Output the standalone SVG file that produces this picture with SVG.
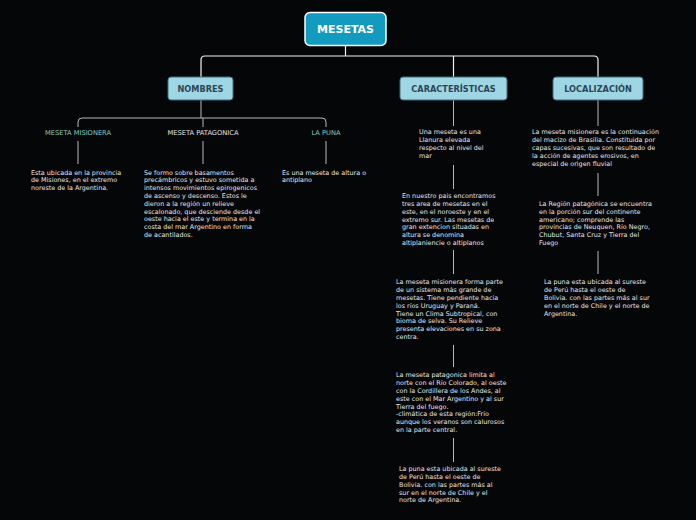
<svg xmlns="http://www.w3.org/2000/svg" width="696" height="520" viewBox="0 0 696 520">
<style>
.t{font-family:"DejaVu Sans",Verdana,sans-serif;font-size:6.4px;fill:#e6e6e6}
.lbl{font-family:"DejaVu Sans",Verdana,sans-serif;font-size:6.7px;text-anchor:middle}
.br rect{fill:#9fd6e4;stroke:#3f6d7c;stroke-width:1}
.br text{font-family:"DejaVu Sans",Verdana,sans-serif;font-size:8.2px;font-weight:bold;fill:#2b4656;text-anchor:middle}
.c{fill:none;stroke:#f2f2f2;stroke-width:1.2}
.s{fill:none;stroke:#b8b8b8;stroke-width:1}
</style>
<rect width="696" height="520" fill="#050608"/>
<g id="connectors">
<path class="c" d="M345.5,46 V56 M201,77 V60 Q201,56 205,56 H594 Q598,56 598,60 V77 M453.5,56 V77"/>
<path class="s" d="M201,100 V118 M78,127 V122 Q78,118 82,118 H322 Q326,118 326,122 V127 M203,118 V127"/>
<path class="s" d="M78,141 V164 M203,141 V164 M326,141 V164"/>
<path class="s" d="M453.5,100 V126 M453.5,165 V189 M453.5,250 V274 M453.5,345 V367 M453.5,438 V462"/>
<path class="s" d="M598,100 V126 M598,173 V196 M598,251 V274"/>
</g>
<g id="root">
<rect x="305" y="12.5" width="81" height="33" rx="5" fill="#129bbf" stroke="#ffffff" stroke-width="1.5"/>
<text x="345.5" y="33" font-family="DejaVu Sans,Verdana,sans-serif" font-size="11" font-weight="bold" fill="#ffffff" text-anchor="middle">MESETAS</text>
</g>
<g id="nombres" class="br"><rect x="168" y="77" width="65" height="23" rx="3"/><text x="200.5" y="91.6">NOMBRES</text></g>
<g id="caracteristicas" class="br"><rect x="400" y="77" width="107" height="23" rx="3"/><text x="453.5" y="91.6">CARACTERÍSTICAS</text></g>
<g id="localizacion" class="br"><rect x="553" y="77" width="90" height="23" rx="3"/><text x="598" y="91.6">LOCALIZACIÓN</text></g>
<g id="meseta-misionera"><text class="lbl" x="78" y="134.5" fill="#86d3c2">MESETA MISIONERA</text></g>
<g id="meseta-patagonica"><text class="lbl" x="203" y="134.5" fill="#e6e6e6">MESETA PATAGONICA</text></g>
<g id="la-puna"><text class="lbl" x="326" y="134.5" fill="#86d3c2">LA PUNA</text></g>
<g id="misionera-desc"><text class="t" x="31" y="174.5"><tspan x="31">Esta ubicada en la provincia</tspan><tspan x="31" dy="7.8">de Misiones, en el extremo</tspan><tspan x="31" dy="7.8">noreste de la Argentina.</tspan></text></g>
<g id="patagonica-desc"><text class="t" x="144" y="174.5"><tspan x="144">Se formo sobre basamentos</tspan><tspan x="144" dy="7.8">precámbricos y estuvo sometida a</tspan><tspan x="144" dy="7.8">intensos movimientos epirogenicos</tspan><tspan x="144" dy="7.8">de ascenso y descenso. Estos le</tspan><tspan x="144" dy="7.8">dieron a la región un relieve</tspan><tspan x="144" dy="7.8">escalonado, que desciende desde el</tspan><tspan x="144" dy="7.8">oeste hacia el este y termina en la</tspan><tspan x="144" dy="7.8">costa del mar Argentino en forma</tspan><tspan x="144" dy="7.8">de acantilados.</tspan></text></g>
<g id="puna-desc"><text class="t" x="282" y="174.5"><tspan x="282">Es una meseta de altura o</tspan><tspan x="282" dy="7.8">antiplano</tspan></text></g>
<g id="car-1"><text class="t" x="419" y="134.4"><tspan x="419">Una meseta es una</tspan><tspan x="419" dy="7.8">Llanura elevada</tspan><tspan x="419" dy="7.8">respecto al nivel del</tspan><tspan x="419" dy="7.8">mar</tspan></text></g>
<g id="car-2"><text class="t" x="402" y="198.2"><tspan x="402">En nuestro pais encontramos</tspan><tspan x="402" dy="7.8">tres area de mesetas en el</tspan><tspan x="402" dy="7.8">este, en el noroeste y en el</tspan><tspan x="402" dy="7.8">extremo sur. Las mesetas de</tspan><tspan x="402" dy="7.8">gran extencion situadas en</tspan><tspan x="402" dy="7.8">altura se denomina</tspan><tspan x="402" dy="7.8">altiplaniencie o altiplanos</tspan></text></g>
<g id="car-3"><text class="t" x="396" y="284.3"><tspan x="396">La meseta misionera forma parte</tspan><tspan x="396" dy="7.8">de un sistema más grande de</tspan><tspan x="396" dy="7.8">mesetas. Tiene pendiente hacia</tspan><tspan x="396" dy="7.8">los ríos Uruguay y Paraná.</tspan><tspan x="396" dy="7.8">Tiene un Clima Subtropical, con</tspan><tspan x="396" dy="7.8">bioma de selva. Su Relieve</tspan><tspan x="396" dy="7.8">presenta elevaciones en su zona</tspan><tspan x="396" dy="7.8">centra.</tspan></text></g>
<g id="car-4"><text class="t" x="396" y="377.3"><tspan x="396">La meseta patagonica limita al</tspan><tspan x="396" dy="7.8">norte con el Río Colorado, al oeste</tspan><tspan x="396" dy="7.8">con la Cordillera de los Andes, al</tspan><tspan x="396" dy="7.8">este con el Mar Argentino y al sur</tspan><tspan x="396" dy="7.8">Tierra del fuego.</tspan><tspan x="396" dy="7.8">-climática de esta región:Frío</tspan><tspan x="396" dy="7.8">aunque los veranos son calurosos</tspan><tspan x="396" dy="7.8">en la parte central.</tspan></text></g>
<g id="car-5"><text class="t" x="399" y="471.2"><tspan x="399">La puna esta ubicada al sureste</tspan><tspan x="399" dy="7.8">de Perú hasta el oeste de</tspan><tspan x="399" dy="7.8">Bolivia. con las partes más al</tspan><tspan x="399" dy="7.8">sur en el norte de Chile y el</tspan><tspan x="399" dy="7.8">norte de Argentina.</tspan></text></g>
<g id="loc-1"><text class="t" x="532" y="134.4"><tspan x="532">La meseta misionera es la continuación</tspan><tspan x="532" dy="7.8">del macizo de Brasilia. Constituida por</tspan><tspan x="532" dy="7.8">capas sucesivas, que son resultado de</tspan><tspan x="532" dy="7.8">la acción de agentes erosivos, en</tspan><tspan x="532" dy="7.8">especial de origen fluvial</tspan></text></g>
<g id="loc-2"><text class="t" x="539" y="206"><tspan x="539">La Región patagónica se encuentra</tspan><tspan x="539" dy="7.8">en la porción sur del continente</tspan><tspan x="539" dy="7.8">americano; comprende las</tspan><tspan x="539" dy="7.8">provincias de Neuquen, Río Negro,</tspan><tspan x="539" dy="7.8">Chubut, Santa Cruz y Tierra del</tspan><tspan x="539" dy="7.8">Fuego</tspan></text></g>
<g id="loc-3"><text class="t" x="544" y="284.3"><tspan x="544">La puna esta ubicada al sureste</tspan><tspan x="544" dy="7.8">de Perú hasta el oeste de</tspan><tspan x="544" dy="7.8">Bolivia. con las partes más al sur</tspan><tspan x="544" dy="7.8">en el norte de Chile y el norte de</tspan><tspan x="544" dy="7.8">Argentina.</tspan></text></g>
</svg>
